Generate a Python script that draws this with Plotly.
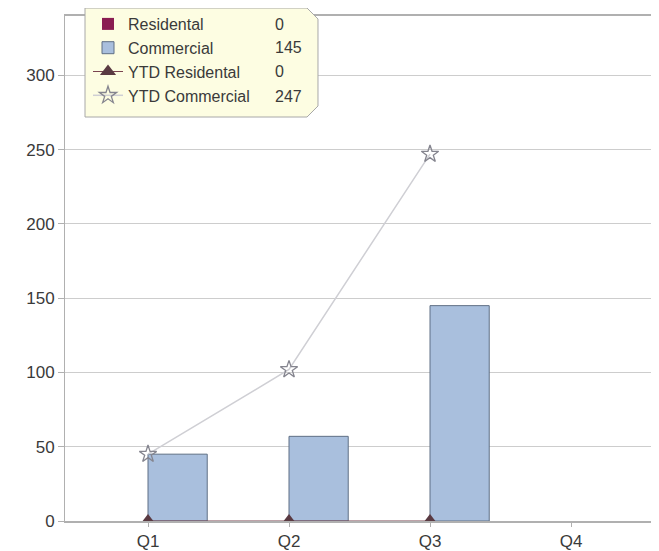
import plotly.graph_objects as go

quarters = ["Q1", "Q2", "Q3", "Q4"]
residental = [0, 0, 0, None]
commercial = [45, 57, 145, None]
ytd_residental = [0, 0, 0, None]
ytd_commercial = [45, 102, 247, None]

# the page body has an 8px margin, so the figure starts at (8, 8) in the window
OFF = 8
W, H = 659 - OFF, 551 - OFF
L, R, T, B = 57, 4, 8, 30
PW, PH = W - L - R, H - T - B


def px(x):
    # window pixel -> paper
    return (x - OFF - L) / PW


def py(y):
    return (H - B - (y - OFF)) / PH


def last_value(vals):
    return [v for v in vals if v is not None][-1]


font = dict(family="Liberation Sans, Arial, sans-serif", size=17, color="#3a3a3a")

fig = go.Figure()
fig.add_trace(go.Bar(
    x=quarters, y=residental, name="Residental", legendgroup="a",
    width=0.42, offset=-0.42,
    marker=dict(color="#8a1d52", line=dict(color="#3a2030", width=0)),
))
fig.add_trace(go.Bar(
    x=quarters, y=commercial, name="Commercial", legendgroup="b",
    width=0.42, offset=0,
    marker=dict(color="#a9bfdd", line=dict(color="#5f6f85", width=1)),
))
fig.add_trace(go.Scatter(
    x=quarters, y=ytd_residental, name="YTD Residental", legendgroup="c",
    mode="lines+markers",
    line=dict(color="#7a4450", width=1),
    marker=dict(symbol="triangle-up", size=14, color="#5a3a42"),
))
fig.add_trace(go.Scatter(
    x=quarters, y=ytd_commercial, name="YTD Commercial", legendgroup="d",
    mode="lines+markers",
    line=dict(color="#cfcfd4", width=1.5),
    marker=dict(symbol="star-open", size=13, color="#85858f", line=dict(width=1.3)),
))

# legend box with clipped corners
box = [(85, 8), (307, 8), (318, 19), (318, 106), (307, 117), (85, 117)]
path = "M " + " L ".join(f"{px(x):.4f},{py(y):.4f}" for x, y in box) + " Z"
fig.add_shape(type="path", path=path, xref="paper", yref="paper", layer="above",
              fillcolor="#fdfde2", line=dict(color="#a8a8a8", width=1))

rows = [24, 48, 72, 96]
series = [residental, commercial, ytd_residental, ytd_commercial]
for row, vals in zip(rows, series):
    fig.add_annotation(x=px(273), y=py(row), xref="paper", yref="paper",
                       text=str(last_value(vals)), showarrow=False,
                       xanchor="left", yanchor="middle",
                       font=dict(family=font["family"], size=16, color="#3a3a3a"))

fig.update_layout(
    width=W, height=H,
    margin=dict(l=L, r=R, t=T, b=B, autoexpand=False),
    paper_bgcolor="white", plot_bgcolor="white",
    font=font,
    barmode="group",
    legend=dict(x=px(88), y=py(7), xanchor="left", yanchor="top",
                bgcolor="rgba(0,0,0,0)", borderwidth=0, tracegroupgap=0,
                font=dict(size=16, color="#3a3a3a")),
)
fig.update_xaxes(type="category", categoryorder="array", categoryarray=quarters,
                 range=[(65 - 148) / 141, (655 - 148) / 141],
                 showline=True, linecolor="#b0b0b0", linewidth=2, mirror=True,
                 layer="above traces",
                 ticks="outside", ticklen=4, tickcolor="#b0b0b0", showgrid=False)
fig.update_yaxes(range=[0, 340], dtick=50, showline=True, linecolor="#b0b0b0",
                 mirror=True, ticks="outside", ticklen=6, tickcolor="#b0b0b0",
                 gridcolor="#cdcdcd", zeroline=False)

fig.write_html("out.html")
